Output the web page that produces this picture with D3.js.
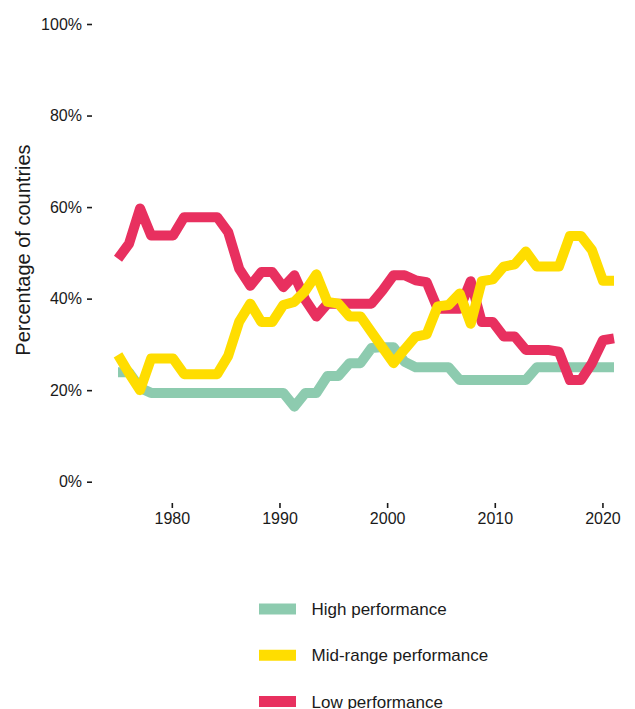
<!DOCTYPE html>
<html lang="en">
<head>
<meta charset="utf-8">
<title>Performance of countries</title>
<style type="text/css">
    body {
        margin: 0;
        background: #fff;
        font-family: "Liberation Sans", Arial, Helvetica, sans-serif;
    }
    .tick text {
        font-size: 16px;
        fill: #1a1a1a;
    }
    .tick line {
        stroke: #1a1a1a;
        stroke-width: 1.6px;
    }
    .series {
        fill: none;
        stroke-width: 10px;
        stroke-linejoin: round;
        stroke-linecap: butt;
    }
    .legend text {
        font-size: 17px;
        fill: #1a1a1a;
    }
    .y-title {
        font-size: 20px;
        fill: #1a1a1a;
        text-anchor: middle;
    }
</style>
</head>
<body>
<script src="https://d3js.org/d3.v7.min.js" charset="utf-8"></script>
<script>
    var years = [1975, 1976, 1977, 1978, 1979, 1980, 1981, 1982, 1983, 1984,
                 1985, 1986, 1987, 1988, 1989, 1990, 1991, 1992, 1993, 1994,
                 1995, 1996, 1997, 1998, 1999, 2000, 2001, 2002, 2003, 2004,
                 2005, 2006, 2007, 2008, 2009, 2010, 2011, 2012, 2013, 2014,
                 2015, 2016, 2017, 2018, 2019, 2020]

    // share of countries (%) per performance group
    var highPerf = [23.9, 23.9, 20.5, 19.4, 19.4, 19.4, 19.4, 19.4, 19.4, 19.4,
                    19.4, 19.4, 19.4, 19.4, 19.4, 19.4, 16.4, 19.4, 19.4, 23.1,
                    23.1, 25.9, 25.9, 29.2, 29.4, 29.4, 26.2, 25.0, 25.0, 25.0,
                    25.0, 22.2, 22.2, 22.2, 22.2, 22.2, 22.2, 22.2, 25.0, 25.0,
                    25.0, 25.0, 25.0, 25.0, 25.0, 25.0]

    var midPerf = [27.7, 23.7, 20.0, 26.9, 26.9, 26.9, 23.5, 23.5, 23.5, 23.5,
                   27.5, 35.0, 38.9, 34.9, 34.9, 38.6, 39.3, 41.7, 45.3, 39.3,
                   38.9, 36.1, 36.1, 32.7, 29.3, 25.9, 28.9, 31.7, 32.2, 38.3,
                   38.6, 41.1, 34.5, 43.8, 44.2, 47.0, 47.5, 50.3, 47.0, 47.0,
                   47.0, 53.7, 53.7, 50.6, 43.9, 43.9]

    var lowPerf = [48.7, 52.0, 59.7, 53.8, 53.8, 53.8, 57.8, 57.8, 57.8, 57.8,
                   54.5, 46.5, 42.8, 45.8, 45.8, 42.5, 45.1, 39.7, 36.1, 38.9,
                   38.9, 38.9, 38.9, 38.9, 41.8, 45.1, 45.1, 44.0, 43.6, 37.8,
                   37.8, 37.8, 43.8, 34.9, 34.9, 31.7, 31.7, 28.8, 28.8, 28.8,
                   28.4, 22.2, 22.2, 25.9, 30.9, 31.3]

    var yTicks = [0, 20, 40, 60, 80, 100]
    var xTicks = [1980, 1990, 2000, 2010, 2020]

    var legendNames = ['High performance', 'Mid-range performance', 'Low performance']
    var legendColors = ['#8dcbaf', '#ffdd00', '#e8305f']

    var svg = d3.select('body')
        .append('svg')
            .attr('width', 635)
            .attr('height', 709)

    var y = d3.scaleLinear().domain([0, 100]).range([481.7, 24])
    var xAxisScale = d3.scaleLinear().domain([1975, 2021]).range([118, 613.2])
    var x = d3.scalePoint().domain(years).range([118, 614])

    // y axis (ticks only, no domain line)
    var yAxis = svg.append('g')
        .attr('transform', 'translate(92,0)')
        .call(d3.axisLeft(y)
            .tickValues(yTicks)
            .tickSize(5)
            .tickPadding(5)
            .tickFormat(function(d) { return d + '%'; }))
    yAxis.select('.domain').remove()
    yAxis.attr('font-family', null).attr('font-size', null)

    var xAxis = svg.append('g')
        .attr('transform', 'translate(0,503)')
        .call(d3.axisBottom(xAxisScale)
            .tickValues(xTicks)
            .tickSize(5)
            .tickPadding(5)
            .tickFormat(d3.format('d')))
    xAxis.select('.domain').remove()
    xAxis.attr('font-family', null).attr('font-size', null)

    svg.append('text')
        .attr('class', 'y-title')
        .attr('transform', 'translate(23,250) rotate(-90)')
        .attr('dy', '0.35em')
        .text('Percentage of countries')

    var line = d3.line()
        .x(function(d, i) { return x(years[i]); })
        .y(function(d) { return y(d); })

    // drawing order: green, red, yellow on top
    var series = [
        {values: highPerf, color: legendColors[0]},
        {values: lowPerf, color: legendColors[2]},
        {values: midPerf, color: legendColors[1]}
    ]

    svg.append('g').selectAll('path')
        .data(series)
        .enter().append('path')
            .attr('class', 'series')
            .attr('stroke', function(d) { return d.color; })
            .attr('d', function(d) { return line(d.values); })

    var legend = svg.append('g').attr('class', 'legend')
    var rows = legend.selectAll('g')
        .data(legendNames)
        .enter().append('g')
            .attr('transform', function(d, i) { return 'translate(259,' + (609 + i * 46.3) + ')'; })

    rows.append('line')
        .attr('x1', 0)
        .attr('x2', 37)
        .attr('stroke-width', 11)
        .attr('stroke', function(d, i) { return legendColors[i]; })

    rows.append('text')
        .attr('x', 52.5)
        .attr('dy', '0.35em')
        .text(function(d) { return d; })
</script>
</body>
</html>
